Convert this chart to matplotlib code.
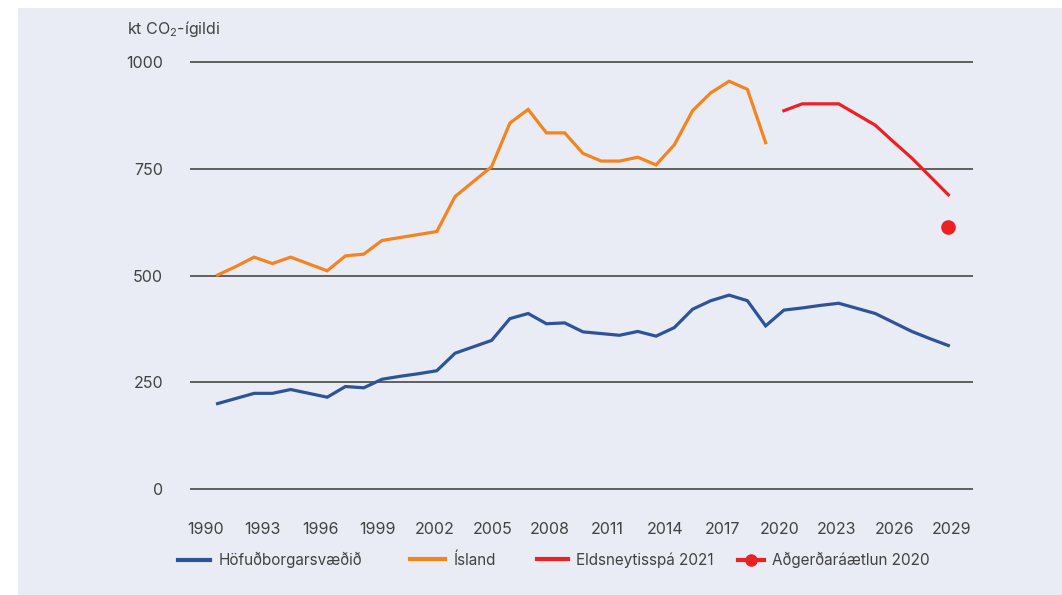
import matplotlib
matplotlib.use("Agg")
import matplotlib.pyplot as plt
from matplotlib.lines import Line2D
import numpy as np

plt.rcParams['font.family'] = ['Inter', 'DejaVu Sans']
plt.rcParams['mathtext.fontset'] = 'custom'
plt.rcParams['mathtext.rm'] = 'Inter'
plt.rcParams['mathtext.it'] = 'Inter'
plt.rcParams['mathtext.default'] = 'regular'

# ---- data ----
years_hist = list(range(1990, 2021))
hofud = [200, 212, 224, 224, 233, 224, 215, 240, 237, 257, 264, 270, 277, 318, 333,
         348, 399, 411, 387, 389, 368, 364, 360, 369, 358, 378, 421, 441, 454, 441, 382]
island = [501, 521, 543, 528, 543, 527, 511, 546, 550, 582, 589, 596, 603, 685, 720,
          755, 857, 889, 834, 834, 786, 768, 768, 777, 759, 806, 886, 928, 955, 936, 811]
years_fc = list(range(2021, 2031))
hofud_fc = [419, 424, 430, 435, 423, 411, 390, 369, 352, 336]
years_spa = list(range(2021, 2031))
spa = [886, 902, 902, 902, 877, 852, 813, 775, 732, 689]
plan_year = [2030]
plan_val = [613]
xtick_labels = ['1990', '1993', '1996', '1999', '2002', '2005', '2008', '2011',
                '2014', '2017', '2020', '2023', '2026', '2029']
yticks = [0, 250, 500, 750, 1000]
legend_labels = ['Höfuðborgarsvæðið', 'Ísland', 'Eldsneytisspá 2021', 'Aðgerðaráætlun 2020']

BLUE = '#2d5399'
ORANGE = '#f5841f'
RED = '#ed2024'
BG = '#e9ecf4'
TXT = '#424242'
GRID = '#555555'

W, H = 1062, 595
fig = plt.figure(figsize=(W / 100, H / 100), dpi=100)
fig.patch.set_facecolor('white')
# background panel
fig.patches.append(plt.Rectangle((18 / W, 0), 1 - 18 / W, 1 - 8 / H, transform=fig.transFigure,
                                 facecolor=BG, edgecolor='none', zorder=-10))

# axes geometry
x_lo, x_hi = 1988.49, 2031.35
y_lo, y_hi = -10, 1010
ax_left = 190 / W
ax_w = (973 - 190) / W
top_px = 62 - 10 * 0.427
bot_px = 489 + 10 * 0.427
ax = fig.add_axes([ax_left, 1 - bot_px / H, ax_w, (bot_px - top_px) / H])
ax.set_facecolor('none')
ax.set_xlim(x_lo, x_hi)
ax.set_ylim(y_lo, y_hi)
for s in ax.spines.values():
    s.set_visible(False)

for yv in yticks:
    ax.axhline(yv, color=GRID, lw=1.3, zorder=1)

lw = 2.3
ax.plot(years_hist + years_fc, hofud + hofud_fc, color=BLUE, lw=lw, zorder=3,
        solid_joinstyle='miter')
ax.plot(years_hist, island, color=ORANGE, lw=lw, zorder=3, solid_joinstyle='miter')
ax.plot(years_spa, spa, color=RED, lw=lw, zorder=3, solid_joinstyle='miter')
ax.plot(plan_year, plan_val, 'o', color=RED, ms=9.5, zorder=4)

ax.set_yticks(yticks)
ax.set_yticklabels([str(v) for v in yticks])
ax.tick_params(axis='y', length=0, pad=19.5, labelsize=11.5, labelcolor=TXT)
xpos = np.linspace(1989.32, 2030.19, len(xtick_labels))
ax.set_xticks(xpos)
ax.set_xticklabels(xtick_labels)
ax.tick_params(axis='x', length=0, pad=21, labelsize=11.5, labelcolor=TXT)

fig.text(127 / W, 1 - 29 / H, 'kt CO$_2$-ígildi', fontsize=11.5, color=TXT,
         ha='left', va='center')

# legend entries
handles = [Line2D([0], [0], color=BLUE, lw=3),
           Line2D([0], [0], color=ORANGE, lw=3),
           Line2D([0], [0], color=RED, lw=3),
           Line2D([0], [0], color=RED, lw=3, marker='o', ms=8)]
leg_x = [178, 410, 537, 738]
hlen = [2.1, 2.3, 2.0, 1.7]
for h, lab, lx, hl in zip(handles, legend_labels, leg_x, hlen):
    fig.legend(handles=[h], labels=[lab], loc='center left',
               bbox_to_anchor=(lx / W, 1 - 560 / H), frameon=False,
               handlelength=hl, handletextpad=0.55, borderpad=0, borderaxespad=0,
               fontsize=11, labelcolor=TXT)

fig.savefig('out.png', dpi=100, facecolor='white')
